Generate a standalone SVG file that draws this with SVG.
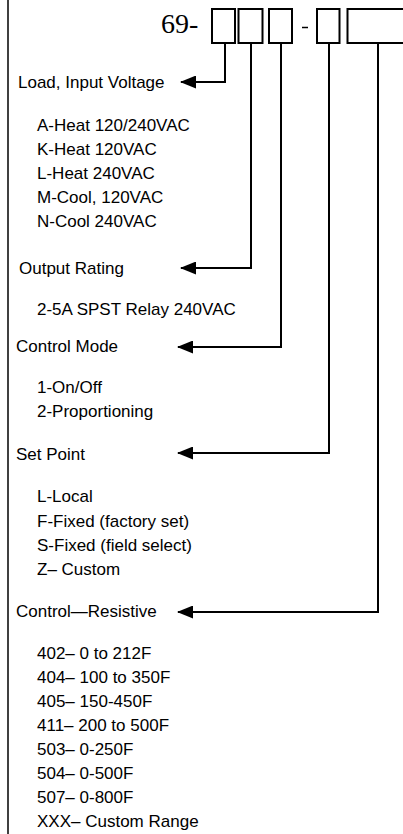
<svg xmlns="http://www.w3.org/2000/svg" width="403" height="834" viewBox="0 0 403 834">
<style>
  .t{font-family:"Liberation Sans",Arial,sans-serif;font-size:17px;fill:#000}
  .code{font-family:"Liberation Serif","Times New Roman",serif;font-size:28px;fill:#000}
  .box{fill:#fff;stroke:#000;stroke-width:2}
  .ln{fill:none;stroke:#000;stroke-width:2}
</style>
<defs>
  <marker id="ah" viewBox="0 0 16 13" refX="15" refY="6.5" markerWidth="16" markerHeight="13" markerUnits="userSpaceOnUse" orient="auto">
    <path d="M0,0 L16,6.5 L0,13 Z" fill="#000"/>
  </marker>
</defs>
<rect width="403" height="834" fill="#fff"/>
<line x1="8" y1="0" x2="8" y2="834" stroke="#000" stroke-width="1.5"/>

<g id="code">
  <text class="code" x="161" y="33">69-</text>
  <rect class="box" x="212" y="9" width="23" height="34"/>
  <rect class="box" x="238.5" y="9" width="24" height="34"/>
  <rect class="box" x="269" y="9" width="23" height="34"/>
  <line x1="302" y1="27.5" x2="308" y2="27.5" stroke="#000" stroke-width="1.5"/>
  <rect class="box" x="317" y="9" width="22.5" height="34"/>
  <rect class="box" x="347.5" y="9" width="60" height="34"/>
</g>

<g id="connectors">
  <polyline class="ln" points="225,43 225,82 181,82" marker-end="url(#ah)"/>
  <polyline class="ln" points="251,43 251,268 181,268" marker-end="url(#ah)"/>
  <polyline class="ln" points="281,43 281,347 178,347" marker-end="url(#ah)"/>
  <polyline class="ln" points="329,43 329,453 178,453" marker-end="url(#ah)"/>
  <polyline class="ln" points="378,43 378,612 178,612" marker-end="url(#ah)"/>
</g>

<g id="load">
  <text class="t" x="18" y="88">Load, Input Voltage</text>
  <text class="t" x="37" y="131">A-Heat 120/240VAC</text>
  <text class="t" x="37" y="155">K-Heat 120VAC</text>
  <text class="t" x="37" y="179">L-Heat 240VAC</text>
  <text class="t" x="37" y="203">M-Cool, 120VAC</text>
  <text class="t" x="37" y="227">N-Cool 240VAC</text>
</g>

<g id="output">
  <text class="t" x="19" y="274">Output Rating</text>
  <text class="t" x="37" y="315">2-5A SPST Relay 240VAC</text>
</g>

<g id="mode">
  <text class="t" x="16" y="352">Control Mode</text>
  <text class="t" x="37" y="393">1-On/Off</text>
  <text class="t" x="37" y="417">2-Proportioning</text>
</g>

<g id="setpoint">
  <text class="t" x="16" y="460">Set Point</text>
  <text class="t" x="37" y="502">L-Local</text>
  <text class="t" x="37" y="527">F-Fixed (factory set)</text>
  <text class="t" x="37" y="551">S-Fixed (field select)</text>
  <text class="t" x="37" y="575">Z– Custom</text>
</g>

<g id="control">
  <text class="t" x="16" y="617">Control—Resistive</text>
  <text class="t" x="37" y="659">402– 0 to 212F</text>
  <text class="t" x="37" y="683">404– 100 to 350F</text>
  <text class="t" x="37" y="707">405– 150-450F</text>
  <text class="t" x="37" y="731">411– 200 to 500F</text>
  <text class="t" x="37" y="755">503– 0-250F</text>
  <text class="t" x="37" y="779">504– 0-500F</text>
  <text class="t" x="37" y="803">507– 0-800F</text>
  <text class="t" x="37" y="827">XXX– Custom Range</text>
</g>
</svg>
